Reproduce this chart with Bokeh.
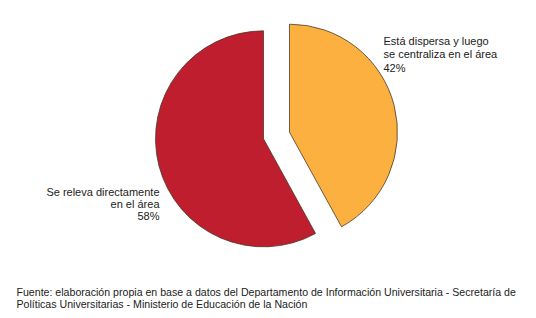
import numpy as np
from bokeh.plotting import figure
from bokeh.models import Range1d
from bokeh.core.properties import value
from bokeh.embed import file_html
from bokeh.resources import INLINE

# ---- data ----
categories = ["Se releva directamente en el área", "Está dispersa y luego se centraliza en el área"]
shares = [58, 42]
colors = ["#BE1E2D", "#FBB040"]
label_lines = [
    ["Se releva directamente", "en el área", "58%"],
    ["Está dispersa y luego", "se centraliza en el área", "42%"],
]
footer = [
    "Fuente: elaboración propia en base a datos del Departamento de Información Universitaria - Secretaría de",
    "Políticas Universitarias - Ministerio de Educación de la Nación",
]

W, H = 528, 310
p = figure(width=W, height=H, output_backend="svg", toolbar_location=None,
           x_range=Range1d(0, W), y_range=Range1d(0, H), min_border=0)
p.axis.visible = False
p.grid.visible = False
p.outline_line_color = None

FONT = value("Liberation Sans")
# page coordinates -> data: x = sx, y = H - sy
cx, cy, R, explode = 276, H - 135, 108, 13.4

vals = np.array(shares, dtype=float)
frac = vals / vals.sum()
o_start = np.deg2rad(90 - frac[1] * 360)
o_end = np.deg2rad(90)
r_start = np.deg2rad(90)
r_end = np.deg2rad(90 + frac[0] * 360)
starts = [r_start, o_start]
ends = [r_end, o_end]
for i in range(2):
    mid = (starts[i] + ends[i]) / 2
    x0 = cx + explode * np.cos(mid)
    y0 = cy + explode * np.sin(mid)
    p.wedge(x=x0, y=y0, radius=R, start_angle=starts[i], end_angle=ends[i],
            fill_color=colors[i], line_color="#4a3a2a", line_width=0.8)

for j, t in enumerate(label_lines[0]):
    p.text(x=159, y=H - 191 - j * 12.3, text=[t], text_font=FONT, text_font_size="11px",
           text_color="#222222", text_align="right", text_baseline="middle")
for j, t in enumerate(label_lines[1]):
    p.text(x=383, y=H - 40 - j * 13.5, text=[t], text_font=FONT, text_font_size="11px",
           text_color="#222222", text_align="left", text_baseline="middle")

for j, t in enumerate(footer):
    p.text(x=16, y=H - 291 - j * 12.5, text=[t], text_font=FONT, text_font_size="10.6px",
           text_color="#222222", text_align="left", text_baseline="middle")

open("out.html", "w").write(file_html(p, INLINE))
